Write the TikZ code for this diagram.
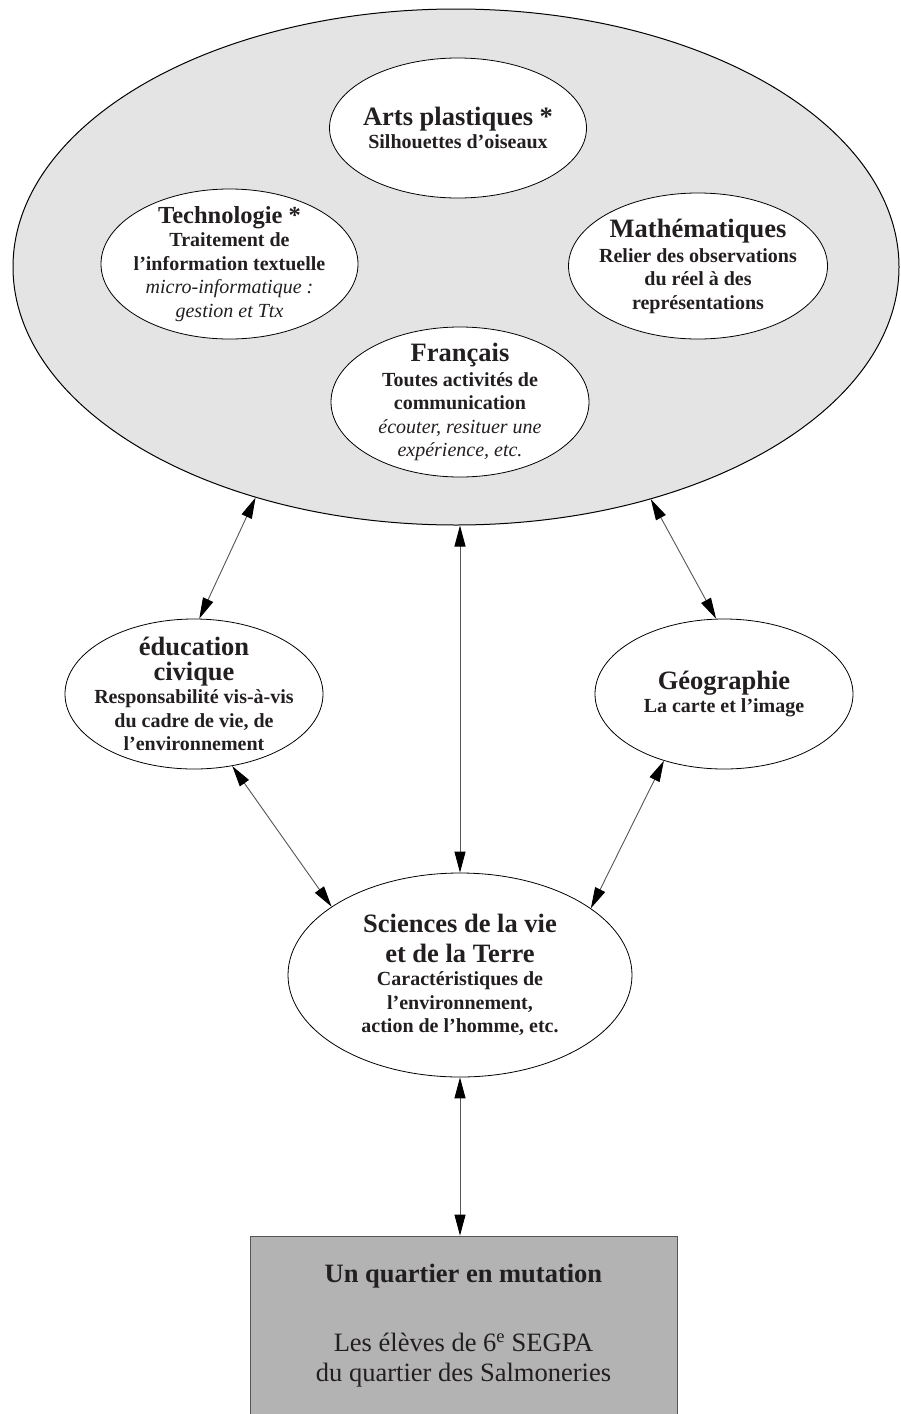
\documentclass[tikz,border=0pt]{standalone}
\usepackage{fontspec}
\setmainfont{Liberation Serif}
\usetikzlibrary{shapes.geometric,arrows.meta}
\definecolor{bigfill}{RGB}{228,228,228}
\definecolor{boxfill}{RGB}{179,179,179}
\definecolor{ink}{RGB}{35,31,32}
\definecolor{linkgray}{RGB}{85,85,85}
\newcommand{\Ttl}[1]{{\fontsize{26.5}{26}\selectfont #1}}
\newcommand{\Ttlsm}[1]{{\fontsize{24.5}{26}\selectfont #1}}
\newcommand{\Itl}[1]{{\mdseries\itshape #1}}
\newcommand{\tightlines}{\lineskiplimit=-40pt\relax\lineskip=0pt\relax}
\newcommand{\subfont}{\fontsize{20}{23.5}\selectfont\bfseries\tightlines}
\newcommand{\boxfont}{\fontsize{26.5}{30}\selectfont\tightlines}
\begin{document}
\begin{tikzpicture}[x=1pt,y=-1pt,
  bubble/.style={ellipse, draw=black, line width=0.8pt, fill=white, inner sep=-30pt,
    align=center, text=ink, font=\subfont},
  bigbubble/.style={ellipse, draw=black, line width=1pt, fill=bigfill, inner sep=0pt},
  basebox/.style={rectangle, draw=linkgray, line width=0.8pt, fill=boxfill, inner sep=0pt,
    align=center, text=ink, font=\boxfont},
  link/.style={draw=linkgray, line width=0.9pt,
    {Triangle[length=21pt,width=11pt,color=black]}-{Triangle[length=21pt,width=11pt,color=black]}}
]
\useasboundingbox (0,0) rectangle (900,1414);

\node[bigbubble, minimum width=886, minimum height=516] (big) at (456,267) {};

\node[bubble, minimum width=257, minimum height=140] (arts) at (458,128)
  {\Ttl{Arts plastiques *}\\Silhouettes d'oiseaux};
\node[bubble, minimum width=257, minimum height=150] (tech) at (229.5,264)
  {\Ttlsm{Technologie *}\\Traitement de\\l'information textuelle\\\Itl{micro-informatique~:}\\\Itl{gestion et Ttx}};
\node[bubble, minimum width=259, minimum height=146] (math) at (698,266)
  {\Ttl{Mathématiques}\\[1.5pt]Relier des observations\\du réel à des\\représentations};
\node[bubble, minimum width=258, minimum height=150] (fr) at (460,402)
  {\Ttl{Français}\\[1.5pt]Toutes activités de\\communication\\\Itl{écouter, resituer une}\\\Itl{expérience, etc.}};

\node[bubble, minimum width=258, minimum height=150] (educ) at (194,694)
  {\Ttl{éducation}\\[1pt]\Ttl{civique}\\Responsabilité vis-à-vis\\du cadre de vie, de\\l'environnement};
\node[bubble, minimum width=258, minimum height=150] (geo) at (724,694)
  {\Ttl{Géographie}\\La carte et l'image};
\node[bubble, minimum width=344, minimum height=204] (sci) at (460,975)
  {\Ttl{Sciences de la vie}\\[6.5pt]\Ttl{et de la Terre}\\Caractéristiques de\\l'environnement,\\action de l'homme, etc.};

\node[basebox, minimum width=427, minimum height=180] (quart) at (463.5,1326)
  {\textbf{Un quartier en mutation}\\[39pt]Les élèves de 6\textsuperscript{e} SEGPA\\du quartier des Salmoneries};

\coordinate (bigc) at (sci.north |- big.south);
\coordinate (quartc) at (sci.south |- quart.north);
\draw[link] (big.229.3) -- (educ.86);
\draw[link] (bigc) -- (sci.north);
\draw[link] (big.310) -- (geo.96);
\draw[link] (educ.298.7) -- (sci.152.7);
\draw[link] (geo.228.9) -- (sci.27.8);
\draw[link] (sci.south) -- (quartc);
\end{tikzpicture}
\end{document}
